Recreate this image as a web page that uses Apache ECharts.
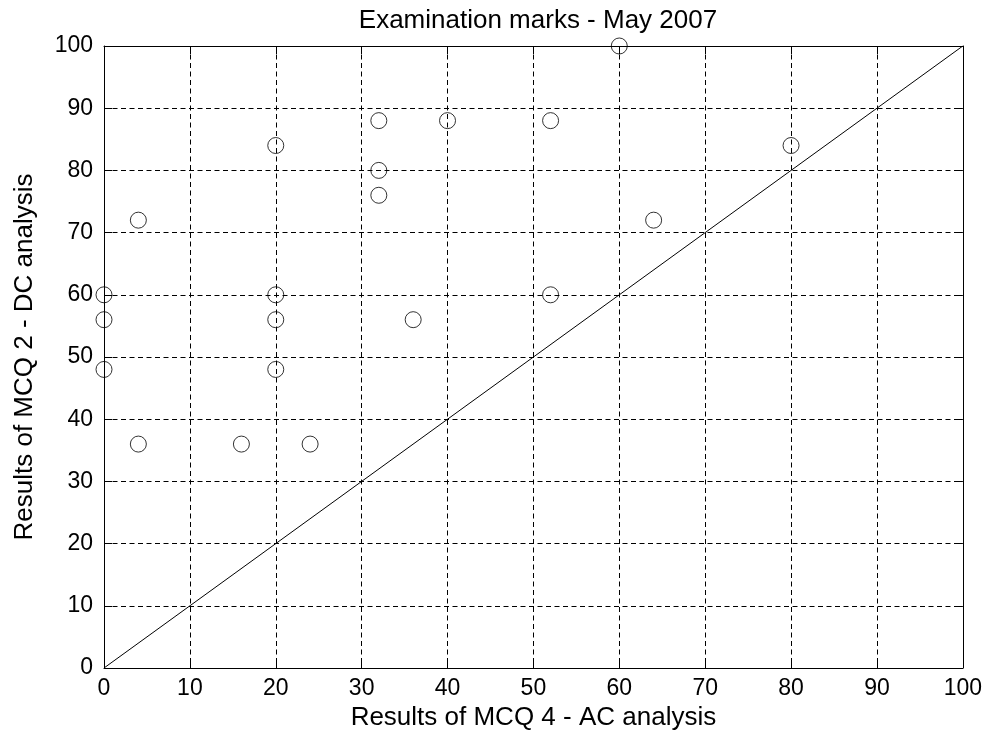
<!DOCTYPE html>
<html>
<head>
<meta charset="utf-8">
<script src="https://cdn.jsdelivr.net/npm/echarts@6/dist/echarts.min.js"></script>
<style>html,body{margin:0;padding:0;background:#fff}#c{width:985px;height:736px}</style>
</head>
<body>
<div id="c"></div>
<script>
var titleText = 'Examination marks - May 2007';
var xName = 'Results of MCQ 4 - AC analysis';
var yName = 'Results of MCQ 2 - DC analysis';
var acMarks = [0, 0, 0, 4, 4, 16, 20, 20, 20, 20, 24, 32, 32, 32, 36, 40, 52, 52, 60, 64, 80];
var dcMarks = [60, 56, 48, 72, 36, 36, 84, 60, 56, 48, 36, 88, 80, 76, 56, 88, 88, 60, 100, 72, 84];
var refX = [0, 100];
var refY = [0, 100];

var font = 'Liberation Sans, Arial, sans-serif';
var chart = echarts.init(document.getElementById('c'));
var pts = acMarks.map(function (v, i) { return [v, dcMarks[i]]; });
var ref = refX.map(function (v, i) { return [v, refY[i]]; });

function axisBase(extra) {
  var a = {
    type: 'value', min: 0, max: 100, interval: 10,
    axisLine: { show: true, onZero: false, lineStyle: { color: '#000', width: 1 } },
    axisTick: { show: true, inside: true, length: 8, lineStyle: { color: '#000' } },
    splitLine: { show: false }
  };
  for (var k in extra) a[k] = extra[k];
  return a;
}

chart.setOption({
  backgroundColor: '#fff',
  animation: false,
  title: {
    text: titleText, left: 533, textAlign: 'center', top: 3,
    textStyle: { fontFamily: font, fontSize: 26, fontWeight: 'normal', color: '#000' }
  },
  grid: { left: 104, right: 22, top: 46, bottom: 64 },
  xAxis: [
    axisBase({
      position: 'bottom',
      name: xName, nameLocation: 'middle', nameGap: 37,
      nameTextStyle: { fontFamily: font, fontSize: 26, color: '#000' },
      axisLabel: { fontFamily: font, fontSize: 23, color: '#000', margin: 9 },
      splitLine: { show: true, lineStyle: { color: '#000', type: [5, 3.5], width: 1 } }
    }),
    axisBase({ position: 'top', axisLabel: { show: false } })
  ],
  yAxis: [
    axisBase({
      position: 'left',
      name: yName, nameLocation: 'middle', nameGap: 66,
      nameTextStyle: { fontFamily: font, fontSize: 26, color: '#000' },
      axisLabel: { fontFamily: font, fontSize: 23, color: '#000', margin: 11 },
      splitLine: { show: true, lineStyle: { color: '#000', type: [5, 3.5], width: 1 } }
    }),
    axisBase({ position: 'right', axisLabel: { show: false } })
  ],
  series: [
    {
      type: 'line', data: ref, xAxisIndex: 0, yAxisIndex: 0,
      showSymbol: false, symbol: 'none',
      lineStyle: { color: '#000', width: 1 }, z: 3
    },
    {
      type: 'scatter', data: pts, xAxisIndex: 0, yAxisIndex: 0,
      symbol: 'circle', symbolSize: 16,
      itemStyle: { color: 'rgba(0,0,0,0)', borderColor: '#000', borderWidth: 1 },
      z: 4
    }
  ]
});
</script>
</body>
</html>
